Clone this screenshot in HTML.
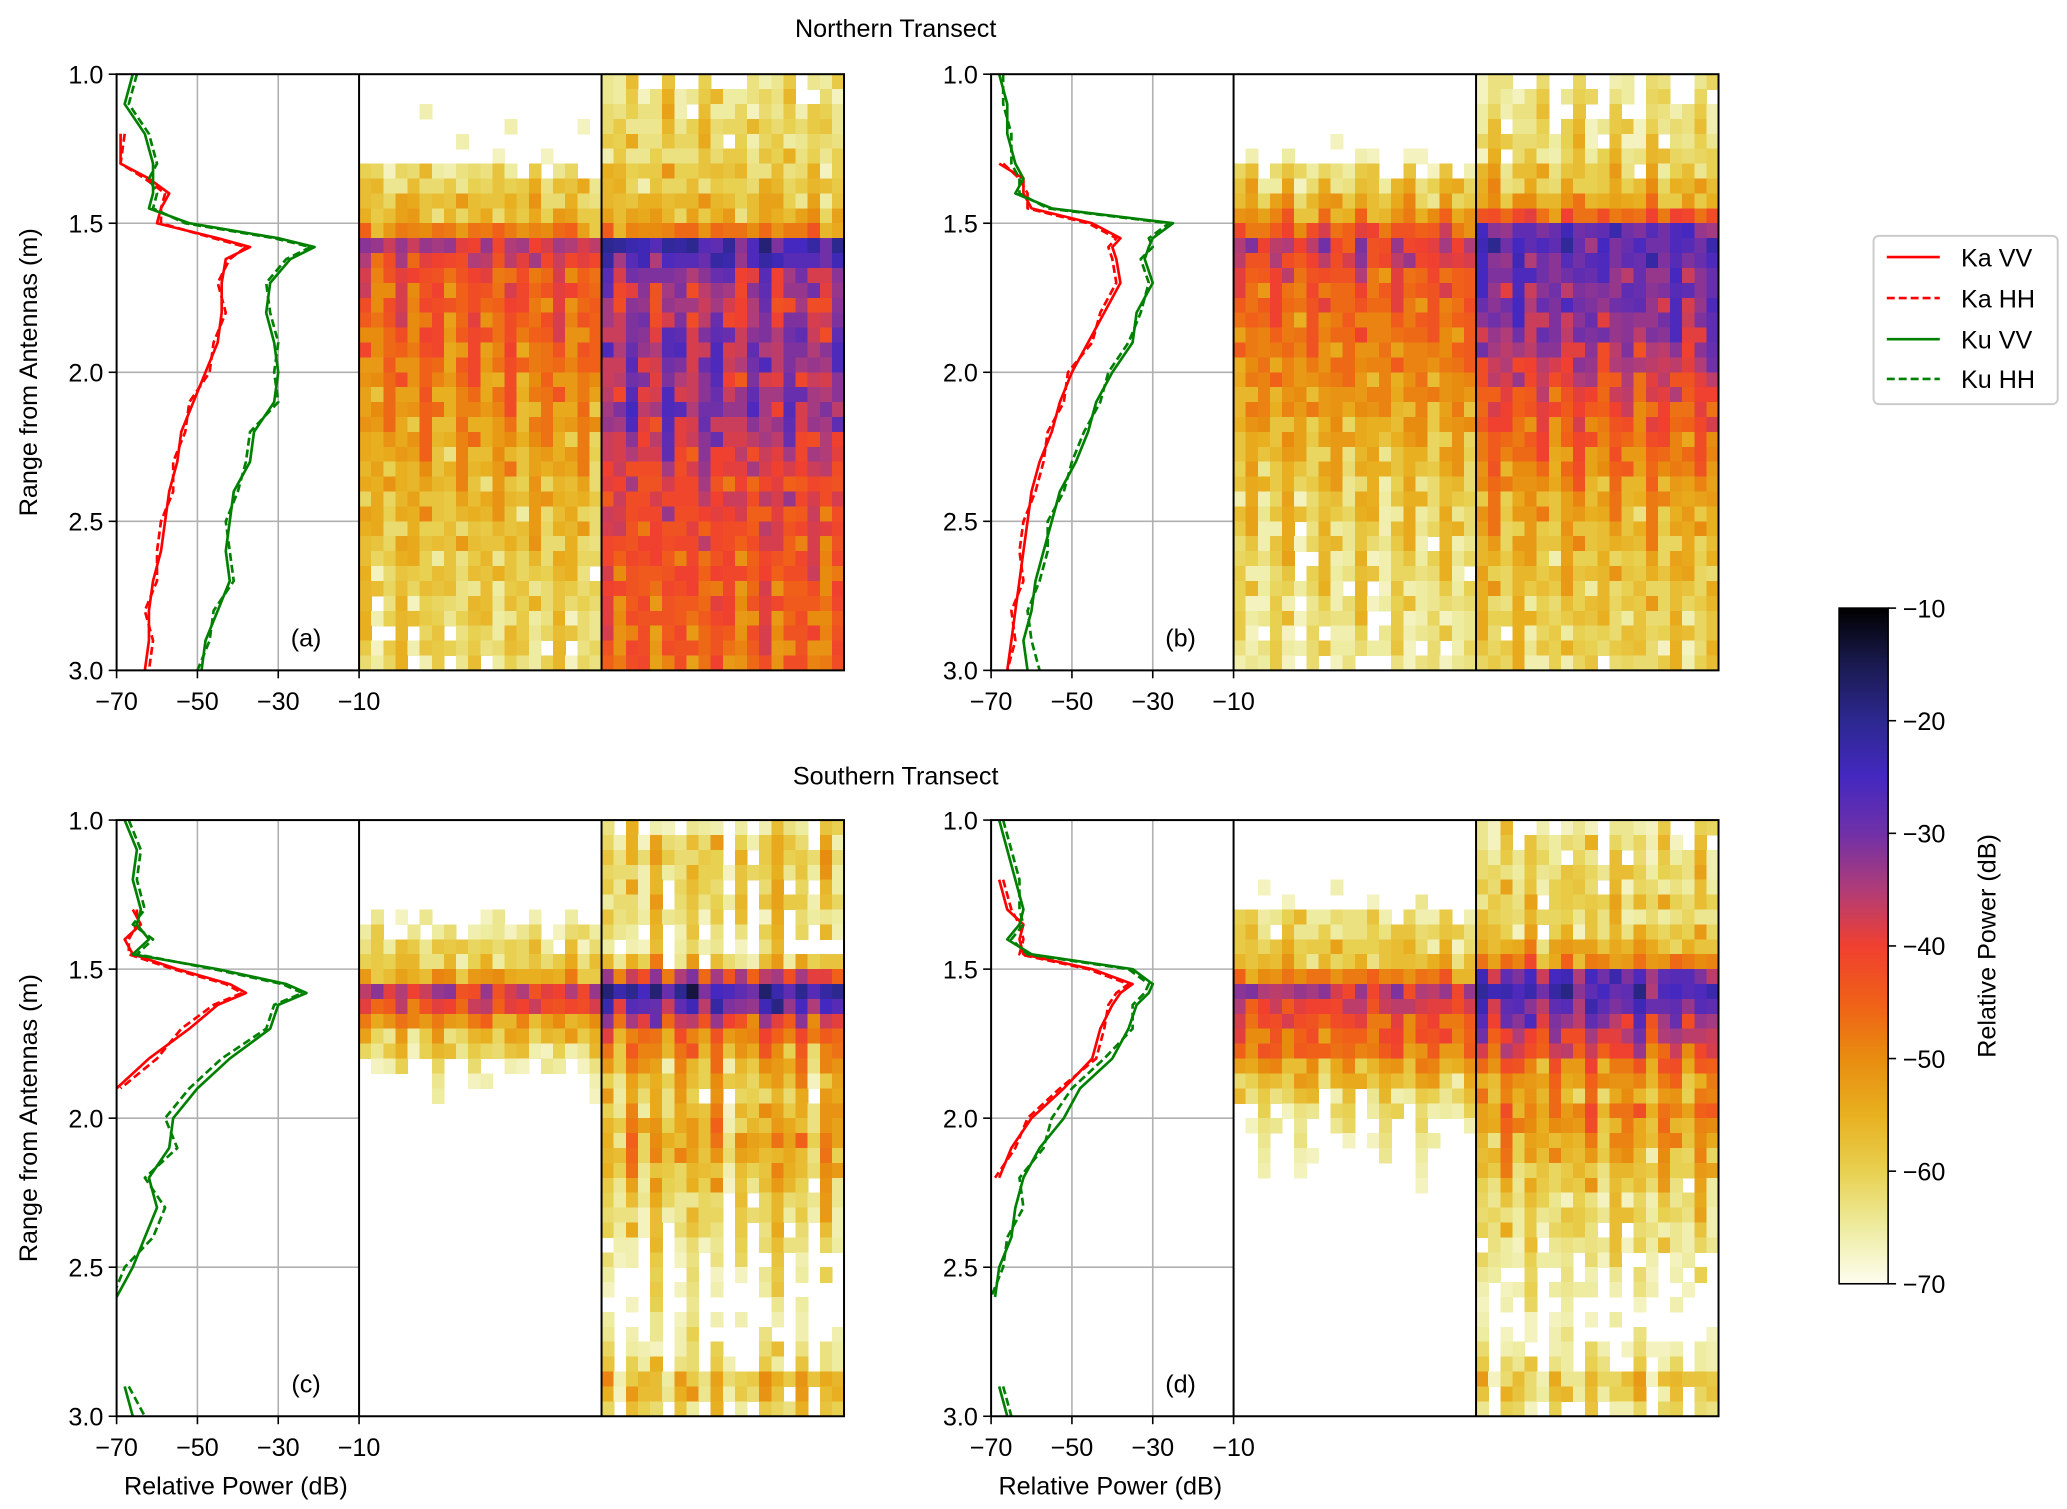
<!DOCTYPE html>
<html><head><meta charset="utf-8"><style>
html,body{margin:0;padding:0;background:#fff}
svg{display:block;font-family:"Liberation Sans","DejaVu Sans",sans-serif}
</style></head><body>
<svg id="fig" width="2067" height="1509" viewBox="0 0 1560 1139" preserveAspectRatio="none" xmlns="http://www.w3.org/2000/svg">
<text x="676" y="28" font-size="19" text-anchor="middle">Northern Transect</text>
<text x="676" y="592" font-size="19" text-anchor="middle">Southern Transect</text>
<text transform="translate(28,281) rotate(-90)" font-size="19" text-anchor="middle">Range from Antennas (m)</text>
<text transform="translate(28,844) rotate(-90)" font-size="19" text-anchor="middle">Range from Antennas (m)</text>
<text x="178" y="1128" font-size="19" text-anchor="middle">Relative Power (dB)</text>
<text x="838" y="1128" font-size="19" text-anchor="middle">Relative Power (dB)</text>
<g>
<rect x="1414" y="178" width="139" height="127" rx="4" fill="#fff" stroke="#ccc" stroke-width="1.5"/>
<line x1="1424" y1="194" x2="1464" y2="194" stroke="#ff0000" stroke-width="2"/>
<text x="1480" y="201" font-size="19">Ka VV</text>
<line x1="1424" y1="225" x2="1464" y2="225" stroke="#ff0000" stroke-width="2" stroke-dasharray="6,3"/>
<text x="1480" y="232" font-size="19">Ka HH</text>
<line x1="1424" y1="256" x2="1464" y2="256" stroke="#008000" stroke-width="2"/>
<text x="1480" y="263" font-size="19">Ku VV</text>
<line x1="1424" y1="286" x2="1464" y2="286" stroke="#008000" stroke-width="2" stroke-dasharray="6,3"/>
<text x="1480" y="293" font-size="19">Ku HH</text>
</g>
<defs><linearGradient id="cbg" x1="0" y1="1" x2="0" y2="0">
<stop offset="0" stop-color="#fdfdf0"/><stop offset="0.0833" stop-color="#eeeca0"/><stop offset="0.1667" stop-color="#e8d050"/><stop offset="0.25" stop-color="#e8b020"/><stop offset="0.3333" stop-color="#e88c10"/><stop offset="0.4167" stop-color="#f06018"/><stop offset="0.5" stop-color="#f04030"/><stop offset="0.5833" stop-color="#b03c78"/><stop offset="0.6667" stop-color="#7030a8"/><stop offset="0.75" stop-color="#4428c0"/><stop offset="0.8333" stop-color="#2c2890"/><stop offset="0.9167" stop-color="#1a1a50"/><stop offset="1" stop-color="#000"/>
</linearGradient>
<clipPath id="cp-a"><rect x="88" y="56" width="183" height="450"/></clipPath>
<clipPath id="cp-b"><rect x="748" y="56" width="183" height="450"/></clipPath>
<clipPath id="cp-c"><rect x="88" y="619" width="183" height="450"/></clipPath>
<clipPath id="cp-d"><rect x="748" y="619" width="183" height="450"/></clipPath>
</defs>
<g>
<rect x="1388" y="459" width="37" height="510" fill="url(#cbg)" stroke="#000" stroke-width="1.2"/>
<text transform="translate(1506,714) rotate(-90)" font-size="19" text-anchor="middle">Relative Power (dB)</text>
<g id="cbticks"></g>
</g>
<g id="panels"></g>
</svg>
<script>
const NS="http://www.w3.org/2000/svg";
const cbTicks=[-10,-20,-30,-40,-50,-60,-70];
const xTicks=[-70,-50,-30,-10];
const yTicks=[1.0,1.5,2.0,2.5,3.0];
const ranges=[1.0,1.1,1.2,1.3,1.35,1.4,1.45,1.5,1.55,1.58,1.62,1.7,1.8,1.9,2.0,2.1,2.2,2.3,2.4,2.5,2.6,2.7,2.8,2.9,3.0];
const aKaVV=[null,null,-69,-69,-62,-57,-59,-60,-45,-37,-43,-44,-44,-45,-48,-51,-54,-55,-57,-58,-59,-61,-62,-62,-63];
const aKaHH=[null,null,-68,-69,-63,-58,-59,-59,-46,-38,-42,-45,-43,-46,-47,-52,-53,-56,-56,-59,-60,-60,-63,-61,-62];
const aKuVV=[-66,-68,-63,-61,-61,-61,-62,-52,-30,-21,-27,-32,-33,-31,-30,-31,-36,-37,-41,-42,-43,-42,-45,-48,-49];
const aKuHH=[-65,-67,-62,-60,-62,-60,-61,-53,-31,-22,-28,-33,-32,-30,-31,-30,-37,-38,-40,-43,-42,-41,-46,-47,-50];
const bKaVV=[null,null,null,-68,-62,-62,-60,-45,-38,-40,-39,-38,-42,-46,-50,-53,-55,-58,-60,-61,-62,-63,-64,-65,-66];
const bKaHH=[null,null,null,-67,-63,-61,-61,-46,-39,-41,-40,-39,-43,-45,-51,-52,-56,-57,-59,-62,-63,-62,-65,-64,-66];
const bKuVV=[-68,-66,-66,-64,-62,-64,-55,-25,-30,-31,-32,-30,-34,-35,-40,-44,-46,-49,-53,-55,-57,-59,-60,-62,-61];
const bKuHH=[-67,-67,-65,-65,-63,-63,-56,-26,-31,-30,-33,-31,-33,-36,-41,-43,-47,-50,-52,-56,-56,-58,-61,-60,-58];
const cKaVV=[null,null,null,-66,-64,-68,-66,-55,-42,-38,-45,-52,-62,-70,null,null,null,null,null,null,null,null,null,null,null];
const cKaHH=[null,null,null,-65,-65,-67,-67,-56,-43,-39,-46,-54,-60,-69,null,null,null,null,null,null,null,null,null,null,null];
const cKuVV=[-68,-65,-66,-64,-65,-62,-66,-45,-28,-23,-30,-32,-42,-50,-56,-57,-62,-60,-63,-66,-70,null,null,-68,-66];
const cKuHH=[-67,-64,-65,-63,-66,-61,-65,-46,-29,-24,-31,-33,-44,-52,-58,-55,-63,-58,-61,-68,-71,null,null,-67,-63];
const dKaVV=[null,null,-68,-66,-62,-63,-62,-45,-35,-38,-40,-43,-45,-52,-60,-65,-68,null,null,null,null,null,null,null,null];
const dKaHH=[null,null,-67,-65,-63,-62,-63,-46,-36,-39,-41,-42,-44,-53,-61,-64,-69,null,null,null,null,null,null,null,null];
const dKuVV=[-68,-66,-64,-62,-63,-66,-60,-35,-30,-31,-34,-36,-40,-48,-52,-58,-62,-64,-65,-68,-69,null,null,-68,-66];
const dKuHH=[-67,-65,-63,-63,-62,-65,-61,-36,-31,-32,-35,-35,-42,-50,-55,-57,-63,-62,-66,-67,-70,null,null,-67,-65];
const aKaRows=[-76,-76,-75,-74,-73,-72,-64,-60,-58,-57,-50,-36,-40,-44,-44,-45,-45,-46,-47,-48,-49,-50,-51,-52,-53,-54,-55,-56,-56,-57,-58,-58,-59,-60,-60,-61,-61,-62,-62,-63];
const aKuRows=[-66,-64,-63,-62,-62,-62,-60,-60,-58,-56,-50,-25,-28,-34,-36,-38,-36,-34,-33,-34,-36,-34,-33,-35,-37,-38,-40,-42,-40,-42,-42,-43,-44,-44,-45,-45,-46,-46,-47,-47];
const bKaRows=[-78,-78,-77,-76,-74,-72,-64,-60,-57,-52,-45,-38,-40,-44,-45,-46,-47,-48,-49,-50,-51,-52,-53,-55,-56,-57,-58,-59,-60,-60,-61,-62,-62,-63,-63,-64,-64,-65,-65,-66];
const bKuRows=[-68,-66,-65,-64,-63,-62,-60,-58,-55,-45,-30,-28,-30,-31,-32,-32,-33,-34,-36,-38,-40,-42,-44,-45,-47,-48,-50,-52,-54,-55,-56,-57,-58,-58,-59,-60,-60,-61,-61,-62];
const cKaRows=[-78,-78,-78,-78,-76,-74,-70,-66,-62,-60,-55,-38,-42,-52,-58,-62,-68,-72,-74,-76,-78,-78,-78,-78,-78,-78,-78,-78,-78,-78,-78,-78,-78,-78,-78,-78,-78,-78,-78,-78];
const cKuRows=[-66,-62,-60,-62,-63,-62,-64,-66,-68,-60,-40,-24,-30,-40,-48,-52,-55,-58,-60,-58,-56,-54,-56,-58,-60,-62,-63,-64,-66,-68,-70,-70,-72,-72,-70,-68,-66,-58,-60,-64];
const dKaRows=[-78,-78,-77,-76,-74,-72,-64,-62,-60,-58,-50,-36,-40,-44,-46,-48,-54,-58,-62,-66,-68,-70,-72,-74,-76,-78,-78,-78,-78,-78,-78,-78,-78,-78,-78,-78,-78,-78,-78,-78];
const dKuRows=[-66,-64,-63,-62,-62,-60,-62,-60,-56,-50,-30,-26,-30,-34,-38,-42,-48,-52,-54,-50,-52,-54,-56,-58,-60,-62,-62,-63,-64,-66,-68,-68,-70,-72,-70,-68,-66,-60,-62,-66];
const aKaCols=[1,-2,0,2,-1,3,0,-3,1,2,-1,0,3,-2,1,0,2,-1,1,-3];
const aKuCols=[2,-1,3,0,-2,4,1,-1,2,3,0,-2,1,3,-1,2,0,1,-2,2];
const bKaCols=[0,2,-1,1,3,-2,0,2,1,-1,3,0,-2,1,2,0,-1,2,1,0];
const bKuCols=[1,3,-1,2,0,2,-2,1,3,0,-1,2,1,-2,3,0,2,-1,1,2];
const cKaCols=[-1,1,0,2,-2,1,3,0,-1,2,1,0,2,-1,0,1,-2,1,0,2];
const cKuCols=[3,-4,5,-2,6,-5,2,4,-3,5,-6,1,-4,3,6,-2,4,-5,5,1];
const dKaCols=[1,0,2,-1,1,3,0,-2,2,1,-1,0,2,1,-1,3,0,1,-2,0];
const dKuCols=[2,-3,4,-1,3,-4,2,1,-2,4,-3,2,0,3,-4,2,1,-3,3,0];
const texture=[0,4,-3,2,-5,1,6,-2,3,-4,0,5,-6,2,-1,4,-3,1,-5,3,0,-2,5];
const panels=[
 {id:"a",x:88,y:56,ka:[aKaVV,aKaHH],ku:[aKuVV,aKuHH],hk:[aKaRows,aKaCols],hu:[aKuRows,aKuCols]},
 {id:"b",x:748,y:56,ka:[bKaVV,bKaHH],ku:[bKuVV,bKuHH],hk:[bKaRows,bKaCols],hu:[bKuRows,bKuCols]},
 {id:"c",x:88,y:619,ka:[cKaVV,cKaHH],ku:[cKuVV,cKuHH],hk:[cKaRows,cKaCols],hu:[cKuRows,cKuCols]},
 {id:"d",x:748,y:619,ka:[dKaVV,dKaHH],ku:[dKuVV,dKuHH],hk:[dKaRows,dKaCols],hu:[dKuRows,dKuCols]}];
const stops=[[-70,[253,253,240]],[-65,[238,236,160]],[-60,[232,208,80]],[-55,[232,176,32]],[-50,[232,140,16]],[-45,[240,96,24]],[-40,[240,64,48]],[-35,[176,60,120]],[-30,[112,48,168]],[-25,[68,40,192]],[-20,[44,40,144]],[-15,[26,26,80]],[-10,[0,0,0]]];
function cmap(v){if(v<=-68)return null;if(v>=-10)return "rgb(0,0,0)";
 for(let i=0;i<stops.length-1;i++){const a=stops[i],b=stops[i+1];if(v>=a[0]&&v<=b[0]){const t=(v-a[0])/(b[0]-a[0]);return "rgb("+a[1].map((c,k)=>Math.round(c+(b[1][k]-c)*t)).join(",")+")";}}return null;}
function el(tag,attrs,parent){const e=document.createElementNS(NS,tag);for(const k in attrs)e.setAttribute(k,attrs[k]);parent.appendChild(e);return e;}
const W=183,H=450;
const root=document.getElementById("panels");
const cbg=document.getElementById("cbticks");
cbTicks.forEach(v=>{const y=459+(-10-v)/60*510;
 el("line",{x1:1425,y1:y,x2:1431,y2:y,stroke:"#000","stroke-width":1.2},cbg);
 const t=el("text",{x:1436,y:y+7,"font-size":19},cbg);t.textContent="\u2212"+Math.abs(v);
 
 });
panels.forEach(p=>{
 const g=el("g",{},root);
 
 
 const xs=v=>p.x+(v+70)/60*W;
 const ys=r=>p.y+(r-1)/2*H;
 [[p.hk,p.x+W,"ka"],[p.hu,p.x+2*W,"ku"]].forEach(([h,x0,nm])=>{
  const hg=el("g",{"shape-rendering":"crispEdges"},g);
  
  
  const rows=h[0],cols=h[1],cw=W/cols.length,rh=H/rows.length;
  rows.forEach((rv,r)=>cols.forEach((cv,c)=>{
   const v=rv+cv+texture[(r*7+c*3)%texture.length];
   const col=cmap(v);if(!col)return;
   const rc=el("rect",{x:x0+c*cw,y:p.y+r*rh,width:cw+0.5,height:rh+0.5,fill:col},hg);
   
   
  }));
 });
 [-50,-30].forEach(v=>el("line",{x1:xs(v),y1:p.y,x2:xs(v),y2:p.y+H,stroke:"#b0b0b0","stroke-width":1.2},g));
 [1.5,2.0,2.5].forEach(r=>el("line",{x1:p.x,y1:ys(r),x2:p.x+W,y2:ys(r),stroke:"#b0b0b0","stroke-width":1.2},g));
 const cg=el("g",{"clip-path":"url(#cp-"+p.id+")"},g);
 const series=[[p.ka[0],"#ff0000",null,"ka-vv"],[p.ka[1],"#ff0000","6,3","ka-hh"],[p.ku[0],"#008000",null,"ku-vv"],[p.ku[1],"#008000","6,3","ku-hh"]];
 series.forEach(([vals,col,dash,nm])=>{
  let d="",pen=false;
  vals.forEach((v,i)=>{if(v===null){pen=false;return;}
   const X=xs(Math.max(v,-75)),Y=ys(ranges[i]);d+=(pen?"L":"M")+X.toFixed(1)+","+Y.toFixed(1);pen=true;});
  const a={d:d,fill:"none",stroke:col,"stroke-width":2,"stroke-linejoin":"round"};if(dash)a["stroke-dasharray"]=dash;
  const path=el("path",a,cg);
  
  
 });
 el("rect",{x:p.x,y:p.y,width:3*W,height:H,fill:"none",stroke:"#000","stroke-width":1.5},g);
 el("line",{x1:p.x+W,y1:p.y,x2:p.x+W,y2:p.y+H,stroke:"#000","stroke-width":1.5},g);
 el("line",{x1:p.x+2*W,y1:p.y,x2:p.x+2*W,y2:p.y+H,stroke:"#000","stroke-width":1.5},g);
 xTicks.forEach(v=>{el("line",{x1:xs(v),y1:p.y+H,x2:xs(v),y2:p.y+H+6,stroke:"#000","stroke-width":1.2},g);
  const t=el("text",{x:xs(v),y:p.y+H+30,"font-size":19,"text-anchor":"middle"},g);t.textContent="\u2212"+Math.abs(v);
  
  });
 yTicks.forEach(r=>{el("line",{x1:p.x-6,y1:ys(r),x2:p.x,y2:ys(r),stroke:"#000","stroke-width":1.2},g);
  const t=el("text",{x:p.x-10,y:ys(r)+7,"font-size":19,"text-anchor":"end"},g);t.textContent=r.toFixed(1);
  
  });
 const lb=el("text",{x:p.x+143,y:p.y+432,"font-size":19,"text-anchor":"middle"},g);lb.textContent="("+p.id+")";
 
 
});
</script>
</body></html>
